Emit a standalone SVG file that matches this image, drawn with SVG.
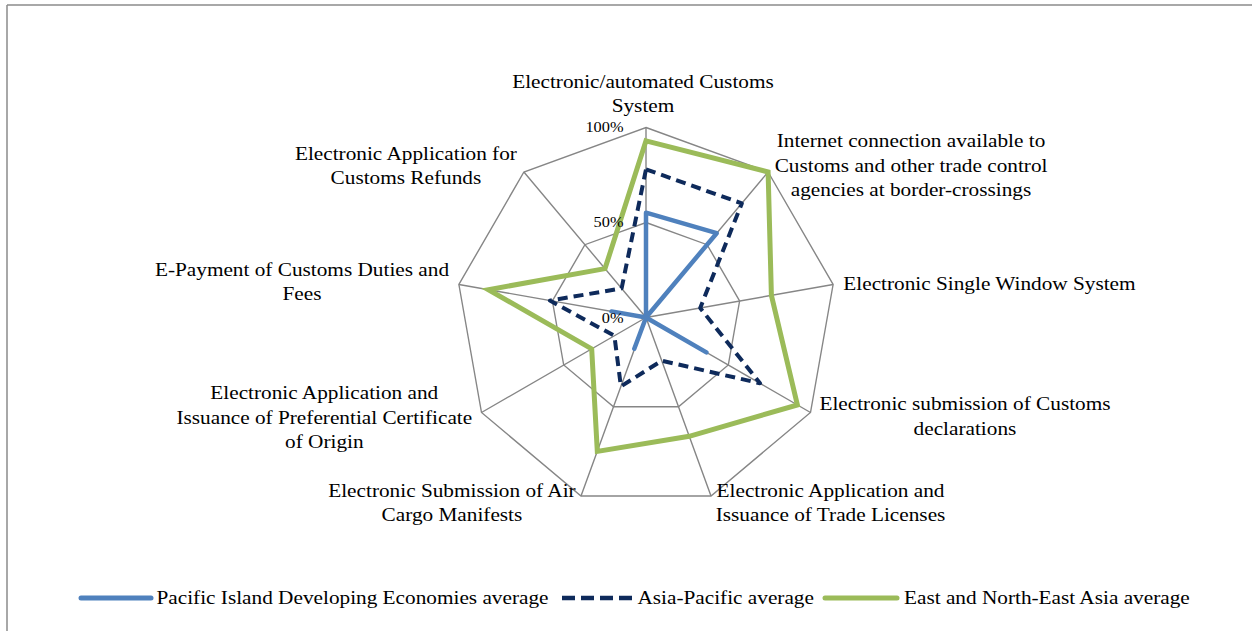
<svg xmlns="http://www.w3.org/2000/svg" width="1252" height="631" viewBox="0 0 1252 631">
<style>
.frame{fill:none;stroke:#8c8c8c;stroke-width:1.5}
.grid{fill:none;stroke:#868686;stroke-width:1.4}
.lbl{font-family:"Liberation Serif","Times New Roman",serif;font-size:18.5px;fill:#000;text-anchor:middle}
.tick{font-family:"Liberation Serif","Times New Roman",serif;font-size:14.2px;fill:#000;text-anchor:end}
.leg{font-family:"Liberation Serif","Times New Roman",serif;font-size:18.5px;fill:#000;text-anchor:start}
.s-blue{fill:none;stroke:#4F81BD;stroke-width:4.5;stroke-linejoin:round}
.s-navy{fill:none;stroke:#0E2A5B;stroke-width:4;stroke-dasharray:10 6;stroke-linejoin:round}
.s-green{fill:none;stroke:#9BBB59;stroke-width:5;stroke-linejoin:miter}
</style>
<rect width="1252" height="631" fill="#fff"/>
<g id="frame">
<path class="frame" d="M7,5 H1252 M7,5 V631"/>
</g>
<g id="grid">
<polygon class="grid" points="646,127.5 768.1,172 833.1,284.5 810.5,412.5 711,496 581,496 481.5,412.5 458.9,284.5 523.9,172"/>
<polygon class="grid" points="646,222.5 707.1,244.7 739.6,301 728.3,365 678.5,406.8 613.5,406.8 563.7,365 552.4,301 584.9,244.7"/>
<path class="grid" d="M646,317.5 L646,127.5 M646,317.5 L768.1,172 M646,317.5 L833.1,284.5 M646,317.5 L810.5,412.5 M646,317.5 L711,496 M646,317.5 L581,496 M646,317.5 L481.5,412.5 M646,317.5 L458.9,284.5 M646,317.5 L523.9,172"/>
</g>
<g id="series">
<polygon id="series-green" class="s-green" points="646,140.8 768.1,172 771.4,295.4 797.4,404.9 689.2,436.3 597.3,451.4 591.7,348.9 488.4,289.7 605,268.6"/>
<polygon id="series-navy" class="s-navy" points="646,169.3 741.8,203.4 700.2,308 760,383.3 661.7,360.7 620.9,386.4 614.4,335.8 549.9,300.6 621.6,288.4"/>
<polygon id="series-blue" class="s-blue" points="646,212.7 716.7,233.2 646,317.5 706.4,352.4 646,317.5 634.3,348.8 646,317.5 611.5,311.4 646,317.5"/>
</g>
<g id="labels" transform="scale(1.15 1)">
<text class="tick" x="542.2" y="131.7">100%</text>
<text class="tick" x="542.2" y="226.7">50%</text>
<text class="tick" x="542.2" y="323.3">0%</text>
<g id="axis-0"><text class="lbl" x="559.1" y="88.3">Electronic/automated Customs</text><text class="lbl" x="559.1" y="112.5">System</text></g>
<g id="axis-1"><text class="lbl" x="792.2" y="147.5">Internet connection available to</text><text class="lbl" x="792.2" y="171.8">Customs and other trade control</text><text class="lbl" x="792.2" y="196">agencies at border-crossings</text></g>
<g id="axis-2"><text class="lbl" x="860.4" y="290.5">Electronic Single Window System</text></g>
<g id="axis-3"><text class="lbl" x="839.1" y="410.5">Electronic submission of Customs</text><text class="lbl" x="839.1" y="434.8">declarations</text></g>
<g id="axis-4"><text class="lbl" x="722.2" y="497">Electronic Application and</text><text class="lbl" x="722.2" y="521.3">Issuance of Trade Licenses</text></g>
<g id="axis-5"><text class="lbl" x="393" y="497">Electronic Submission of Air</text><text class="lbl" x="393" y="521.3">Cargo Manifests</text></g>
<g id="axis-6"><text class="lbl" x="282" y="399.5">Electronic Application and</text><text class="lbl" x="282" y="423.8">Issuance of Preferential Certificate</text><text class="lbl" x="282" y="448">of Origin</text></g>
<g id="axis-7"><text class="lbl" x="262.6" y="276">E-Payment of Customs Duties and</text><text class="lbl" x="262.6" y="300.5">Fees</text></g>
<g id="axis-8"><text class="lbl" x="353" y="160">Electronic Application for</text><text class="lbl" x="353" y="184">Customs Refunds</text></g>
</g>
<g id="legend">
<line x1="81" y1="598" x2="151" y2="598" stroke="#4F81BD" stroke-width="5" stroke-linecap="round"/>
<line x1="562" y1="598" x2="632" y2="598" stroke="#0E2A5B" stroke-width="4.5" stroke-dasharray="13 6"/>
<line x1="825" y1="598" x2="897" y2="598" stroke="#9BBB59" stroke-width="5" stroke-linecap="round"/>
<g transform="scale(1.15 1)">
<text class="leg" x="136.1" y="604">Pacific Island Developing Economies average</text>
<text class="leg" x="554.3" y="604">Asia-Pacific average</text>
<text class="leg" x="786.1" y="604">East and North-East Asia average</text>
</g>
</g>
</svg>
